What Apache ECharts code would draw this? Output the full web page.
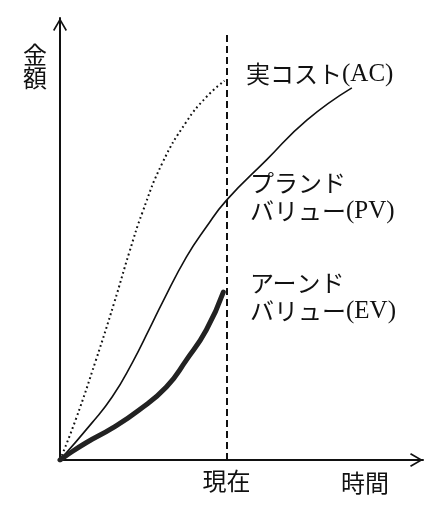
<!DOCTYPE html>
<html>
<head>
<meta charset="utf-8">
<script src="https://cdn.jsdelivr.net/npm/echarts@6/dist/echarts.min.js"></script>
<style>
html,body{margin:0;padding:0;background:#fff;}
#chart{width:440px;height:520px;}
</style>
</head>
<body>
<div id="chart"></div>
<script>
// Actual cost (AC), dotted
const acTime = [0, 4.4, 9.9, 14.9, 19.1, 22.7, 28.2, 34.8, 40.3, 45.3];
const acCost = [0, 9.3, 22.6, 35.5, 47.0, 56.0, 67.2, 76.5, 82.1, 85.8];
// Planned value (PV), thin solid
const pvTime = [0, 8.8, 14.4, 19.9, 24.6, 28.2, 34.8, 40.3, 45.9, 56.9, 68.0, 80.4];
const pvValue = [0, 8.4, 14.3, 22.0, 29.6, 35.6, 45.9, 52.7, 58.8, 67.9, 76.9, 84.2];
// Earned value (EV), thick solid
const evTime = [0, 1.7, 7.2, 14.4, 21.8, 29.3, 34.8, 40.3, 45.0];
const evValue = [0, 1.0, 3.9, 7.2, 11.3, 16.5, 22.6, 29.4, 38.0];
// "now" marker
const nowTime = 45.9;
const nowTop = 96.8;

const labelNow = '現在';
const labelTime = '時間';
const labelAmount = '金\n額';
const labelAC = '{c|実コスト}{l|(AC)}';
const labelPV = '{c|プランド}\n{c|バリュー}{l|(PV)}';
const labelEV = '{c|アーンド}\n{c|バリュー}{l|(EV)}';

const pairs = (xs, ys) => xs.map((x, i) => [x, ys[i]]);
const FF = "'Liberation Serif', 'Noto Sans CJK JP', serif";
const INK = '#111';
const arrowPath = 'path://M0,12L7,0L14,12L12.6,12.9L7,3.2L1.4,12.9Z';
const rich = {
  c: { font: "24px 'Noto Sans CJK JP'", fill: INK, lineHeight: 28 },
  l: { font: "25px 'Liberation Serif'", fill: INK, lineHeight: 28 }
};

const axisCommon = {
  type: 'value', min: 0, max: 100,
  axisLine: {
    show: true, onZero: false,
    lineStyle: { color: INK, width: 2 },
    symbol: ['none', arrowPath],
    symbolSize: [14, 13],
    symbolOffset: [0, -6.5]
  },
  axisTick: { show: false },
  axisLabel: { show: false },
  splitLine: { show: false }
};

const chart = echarts.init(document.getElementById('chart'), null, { renderer: 'canvas' });
chart.setOption({
  animation: false,
  backgroundColor: '#fff',
  grid: { left: 60, right: 17, top: 18, bottom: 60 },
  xAxis: axisCommon,
  yAxis: axisCommon,
  series: [
    {
      name: 'AC', type: 'line', data: pairs(acTime, acCost),
      smooth: 0.5, showSymbol: false, silent: true,
      lineStyle: { color: INK, width: 2, type: [1.8, 3], cap: 'butt' }
    },
    {
      name: 'PV', type: 'line', data: pairs(pvTime, pvValue),
      smooth: 0.5, showSymbol: false, silent: true,
      lineStyle: { color: INK, width: 1.6 }
    },
    {
      name: 'EV', type: 'line', data: pairs(evTime, evValue),
      smooth: 0.5, showSymbol: false, silent: true,
      lineStyle: { color: '#222', width: 5, cap: 'round' },
      markLine: {
        silent: true,
        symbol: ['none', 'none'],
        lineStyle: { color: INK, width: 2, type: [7, 4] },
        label: {
          show: true, position: 'start', formatter: labelNow, distance: 12,
          fontSize: 24, fontFamily: FF, color: INK
        },
        data: [[{ coord: [nowTime, 0] }, { coord: [nowTime, nowTop] }]]
      }
    }
  ],
  graphic: [
    { type: 'text', style: { text: labelAmount, x: 35, y: 46, fill: INK, font: "24px " + FF, textAlign: 'center', textVerticalAlign: 'top', lineHeight: 23 } },
    { type: 'text', style: { text: labelTime, x: 365, y: 486, fill: INK, font: "24px " + FF, textAlign: 'center', textVerticalAlign: 'middle' } },
    { type: 'text', style: { text: labelAC, x: 246, y: 74, textAlign: 'left', textVerticalAlign: 'middle', rich: rich } },
    { type: 'text', style: { text: labelPV, x: 250, y: 169, textAlign: 'left', textVerticalAlign: 'top', rich: rich } },
    { type: 'text', style: { text: labelEV, x: 250, y: 269, textAlign: 'left', textVerticalAlign: 'top', rich: rich } }
  ]
});
</script>
</body>
</html>
